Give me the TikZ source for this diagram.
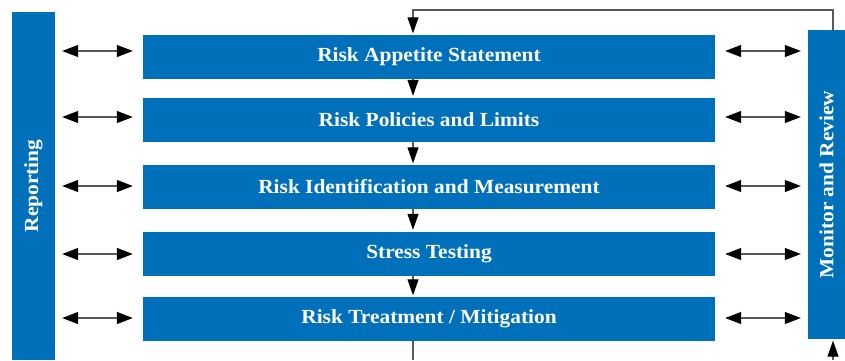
\documentclass[tikz,border=0pt]{standalone}
\usepackage{fontspec}
\setmainfont[FakeStretch=1.07]{Liberation Serif}
\usetikzlibrary{arrows.meta}
\definecolor{riskblue}{RGB}{0,112,186}
\tikzset{
  bar/.style={fill=riskblue, draw=none, inner sep=0pt, text=white,
    font=\fontsize{20}{22}\selectfont\bfseries},
  stage/.style={bar, minimum width=572pt, minimum height=44pt},
  link/.style={draw=black!65, line width=1.1pt},
  head/.style={Triangle[length=16pt,width=12pt,fill=black,color=black]},
  dbl/.style={link, {Triangle[length=16pt,width=12pt,fill=black,color=black]}-{Triangle[length=16pt,width=12pt,fill=black,color=black]},
    shorten <=7pt, shorten >=10pt},
  down/.style={link, -{Triangle[length=16pt,width=11pt,fill=black,color=black]}, shorten >=1.5pt}
}
\begin{document}
\begin{tikzpicture}[x=1pt,y=-1pt]
\useasboundingbox (0,0) rectangle (845,360);

% side bars
\node[bar, minimum width=43pt, minimum height=348pt] (rep) at (33.5,186)
  {\rotatebox{90}{Reporting}};
\node[bar, minimum width=37pt, minimum height=309pt] (mon) at (826.5,184.5)
  {\rotatebox{90}{Monitor and Review}};

% process stages
\node[stage] (b1) at (429,57)    {Risk Appetite Statement};
\node[stage] (b2) at (429,119.5) {Risk Policies and Limits};
\node[stage] (b3) at (429,187)   {Risk Identification and Measurement};
\node[stage] (b4) at (429,253.5) {Stress Testing};
\node[stage] (b5) at (429,319)   {Risk Treatment / Mitigation};

% flow column and loop points
\coordinate (fx) at (413,0);
\coordinate (mx) at (833,0);
\coordinate (top) at (0,10);
\coordinate (bot) at (0,360);

% feedback loop from the monitor back to the top
\draw[down] (mx |- mon.north) -- (mx |- top) -- (fx |- top) -- (fx |- b1.north);
\draw[down] (fx |- b1.south) -- (fx |- b2.north);
\draw[down] (fx |- b2.south) -- (fx |- b3.north);
\draw[down] (fx |- b3.south) -- (fx |- b4.north);
\draw[down] (fx |- b4.south) -- (fx |- b5.north);
\draw[link] (fx |- b5.south) -- (fx |- bot);
\draw[down] (mx |- bot) -- (mx |- mon.south);

% two-way links to reporting and monitoring
\coordinate (a1) at (0,51);
\draw[dbl] (rep.east |- a1) -- (b1.west |- a1);
\draw[dbl] (mon.west |- a1) -- (b1.east |- a1);
\foreach \b/\y in {b2/117, b3/186, b4/254, b5/318}{
  \coordinate (ay) at (0,\y);
  \draw[dbl] (rep.east |- ay) -- (\b.west |- ay);
  \draw[dbl] (mon.west |- ay) -- (\b.east |- ay);
}
\end{tikzpicture}
\end{document}
